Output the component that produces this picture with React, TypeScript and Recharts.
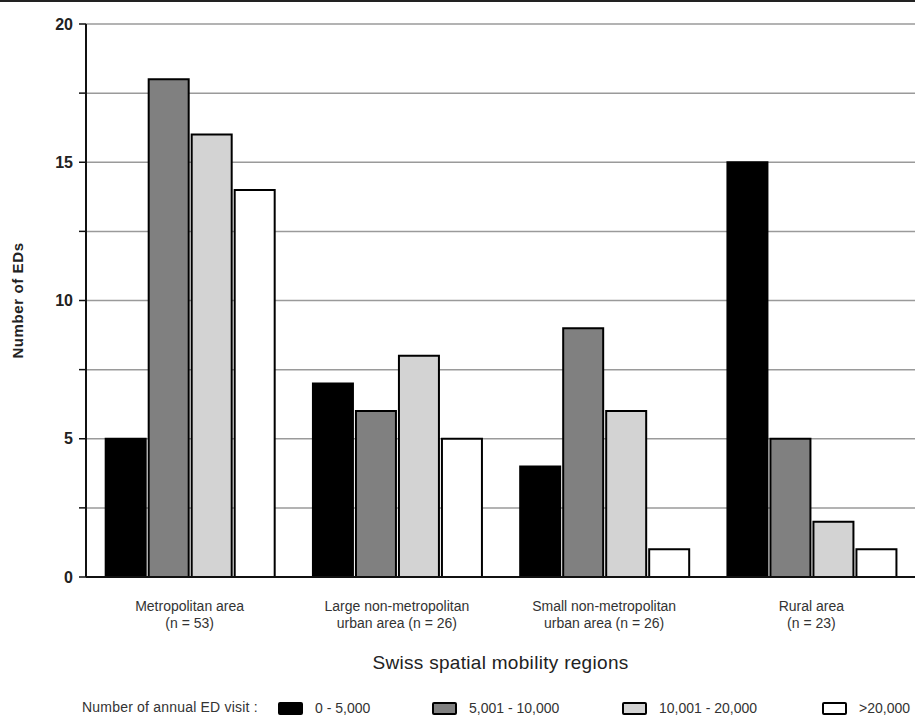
import { BarChart, Bar, XAxis, YAxis, CartesianGrid, Legend } from 'recharts'

const regions = [
  'Metropolitan area\n(n = 53)',
  'Large non-metropolitan\nurban area (n = 26)',
  'Small non-metropolitan\nurban area (n = 26)',
  'Rural area\n(n = 23)',
]
const visits0to5k = [5, 7, 4, 15]
const visits5to10k = [18, 6, 9, 5]
const visits10to20k = [16, 8, 6, 2]
const visitsOver20k = [14, 5, 1, 1]

const seriesNames = ['0 - 5,000', '5,001 - 10,000', '10,001 - 20,000', '>20,000']
const seriesColors = ['#000000', '#808080', '#d3d3d3', '#ffffff']
const yTicks = [0, 2.5, 5, 7.5, 10, 12.5, 15, 17.5, 20]

const data = regions.map((region, i) => ({
  region,
  s0: visits0to5k[i],
  s1: visits5to10k[i],
  s2: visits10to20k[i],
  s3: visitsOver20k[i],
}))

const FONT = '"Liberation Sans", Arial, sans-serif'

const RegionTick = ({ x, y, payload }: any) => {
  const lines = String(payload.value).split('\n')
  return (
    <text x={x} y={y + 26} textAnchor="middle" fontSize={14} fill="#333" fontFamily={FONT}>
      {lines.map((l, i) => (
        <tspan key={i} x={x} dy={i === 0 ? 0 : 17}>
          {l}
        </tspan>
      ))}
    </text>
  )
}

const swatchLeft = [278, 432, 622, 822]

const LegendContent = () => (
  <div style={{ position: 'relative', height: 24, fontFamily: FONT, fontSize: 14, color: '#333' }}>
    <span style={{ position: 'absolute', left: 82, top: 10, letterSpacing: 0.2 }}>Number of annual ED visit :</span>
    {seriesNames.map((name, i) => (
      <div
        key={name}
        style={{ position: 'absolute', left: swatchLeft[i], top: 11, display: 'flex', alignItems: 'center' }}
      >
        <span
          style={{
            width: 21,
            height: 9,
            background: seriesColors[i],
            border: '2px solid #000',
            borderRadius: 2,
            display: 'inline-block',
            marginRight: 12,
          }}
        />
        <span>{name}</span>
      </div>
    ))}
  </div>
)

export default function App() {
  return (
    <div style={{ position: 'absolute', left: 0, top: 0, width: 915, height: 717, background: '#fff' }}>
      <div style={{ position: 'absolute', left: 0, top: 0, width: 915, height: 2, background: '#222' }} />
      <BarChart
        width={915}
        height={717}
        data={data}
        margin={{ top: 24, right: 0, left: 0, bottom: 0 }}
        barCategoryGap="9.5%"
        barGap={3}
      >
        <CartesianGrid horizontal vertical={false} stroke="#9a9a9a" strokeWidth={1.5} />
        <XAxis
          dataKey="region"
          tick={<RegionTick />}
          tickLine={false}
          axisLine={{ stroke: '#111', strokeWidth: 2 }}
          height={112}
          interval={0}
          label={{
            value: 'Swiss spatial mobility regions',
            position: 'insideBottom',
            offset: 20,
            style: { fontSize: 19, fill: '#222', fontFamily: FONT, letterSpacing: 0.3 },
          }}
        />
        <YAxis
          domain={[0, 20]}
          ticks={yTicks}
          interval={0}
          width={86}
          tickSize={7}
          tickLine={{ stroke: '#111', strokeWidth: 1.5 }}
          axisLine={{ stroke: '#111', strokeWidth: 2 }}
          tickFormatter={(v: number) => (v % 5 === 0 ? String(v) : '')}
          tick={{ fontSize: 16, fontWeight: 'bold', fill: '#222', fontFamily: FONT, dx: -4 }}
          label={{
            value: 'Number of EDs',
            angle: -90,
            position: 'insideLeft',
            offset: 18,
            style: {
              fontSize: 15,
              fontWeight: 'bold',
              fill: '#222',
              fontFamily: FONT,
              textAnchor: 'middle',
              letterSpacing: 0.6,
            },
          }}
        />
        <Legend verticalAlign="bottom" height={28} content={<LegendContent />} />
        {['s0', 's1', 's2', 's3'].map((key, i) => (
          <Bar
            key={key}
            dataKey={key}
            name={seriesNames[i]}
            fill={seriesColors[i]}
            stroke="#000"
            strokeWidth={2}
            isAnimationActive={false}
          />
        ))}
      </BarChart>
    </div>
  )
}
